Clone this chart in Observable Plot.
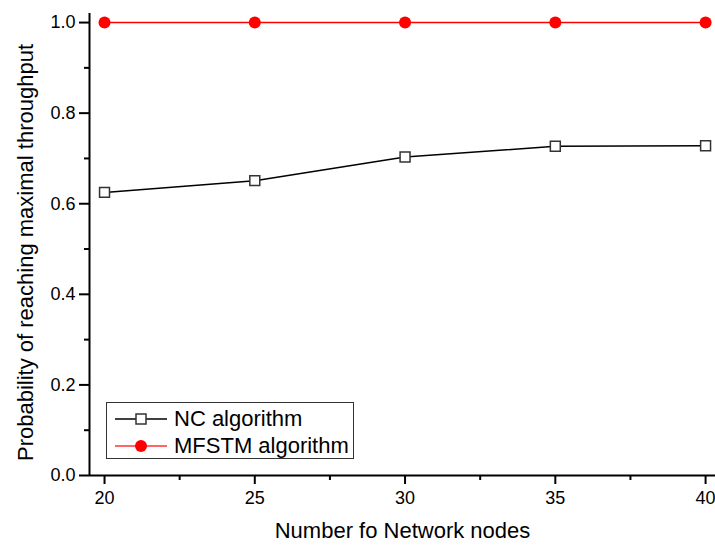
<!DOCTYPE html>
<html>
<head>
<meta charset="utf-8">
<script src="https://cdn.jsdelivr.net/npm/d3@7"></script>
<script src="https://cdn.jsdelivr.net/npm/@observablehq/plot@0.6"></script>
<style>
  body { margin: 0; background: #fff; }
  #wrap { position: relative; width: 715px; height: 545px; font-family: "Liberation Sans", Arial, sans-serif; }
  #legend { position: absolute; left: 106px; top: 402px; width: 246px; height: 55px; border: 1px solid #333; background: #fff; }
  .row { position: absolute; left: 0; height: 27px; display: flex; align-items: center; font-size: 22px; color: #000; }
  .row svg { margin-left: 8px; margin-right: 7px; }
</style>
</head>
<body>
<div id="wrap"></div>
<script>
const nodes = [20, 25, 30, 35, 40];
const ncValues = [0.625, 0.651, 0.703, 0.727, 0.728];
const mfstmValues = [1.0, 1.0, 1.0, 1.0, 1.0];
const xTicks = [20, 25, 30, 35, 40];
const xMinorTicks = [22.5, 27.5, 32.5, 37.5];
const yTicks = [0, 0.2, 0.4, 0.6, 0.8, 1.0];
const yMinorTicks = [0.1, 0.3, 0.5, 0.7, 0.9];
const xDomain = [19.5, 40.33];
const yDomain = [0, 1.02];
const seriesNames = ["NC algorithm", "MFSTM algorithm"];
const xLabel = "Number fo Network nodes";
const yLabel = "Probability of reaching maximal throughput";

const nc = nodes.map((n, i) => ({x: n, y: ncValues[i]}));
const mf = nodes.map((n, i) => ({x: n, y: mfstmValues[i]}));

const chart = Plot.plot({
  width: 715,
  height: 545,
  marginLeft: 89,
  marginRight: 0,
  marginTop: 13,
  marginBottom: 70,
  style: {fontFamily: "'Liberation Sans', Arial, sans-serif", background: "#fff", color: "#000"},
  x: {domain: xDomain},
  y: {domain: yDomain},
  marks: [
    Plot.axisY({ticks: yMinorTicks, tickSize: 5, tickFormat: () => "", strokeWidth: 2, label: null}),
    Plot.axisY({ticks: yTicks, tickSize: 10, tickPadding: 4, tickFormat: d3.format(".1f"), strokeWidth: 2, fontSize: 18,
      label: yLabel, labelAnchor: "center", labelArrow: "none", labelOffset: 72}),
    Plot.axisX({ticks: xMinorTicks, tickSize: 5, tickFormat: () => "", strokeWidth: 2, label: null}),
    Plot.axisX({ticks: xTicks, tickSize: 9, tickPadding: 7, strokeWidth: 2, fontSize: 18,
      label: xLabel, labelAnchor: "center", labelArrow: "none", labelOffset: 62}),
    Plot.ruleX([xDomain[0]], {stroke: "#000", strokeWidth: 2}),
    Plot.ruleY([yDomain[0]], {stroke: "#000", strokeWidth: 2}),
    Plot.line(nc, {x: "x", y: "y", stroke: "#000", strokeWidth: 1.5}),
    Plot.dot(nc, {x: "x", y: "y", symbol: "square", r: 5.6, fill: "#fff", stroke: "#333", strokeWidth: 1.5}),
    Plot.line(mf, {x: "x", y: "y", stroke: "#ff0000", strokeWidth: 1.5}),
    Plot.dot(mf, {x: "x", y: "y", symbol: "circle", r: 6, fill: "#ff0000", stroke: "none"})
  ]
});
chart.querySelectorAll('[aria-label="y-axis label"] text, [aria-label="x-axis label"] text').forEach(t => t.setAttribute("font-size", "22"));
chart.querySelectorAll('[aria-label="y-axis label"] text').forEach(t => t.setAttribute("dx", "-8"));
const wrap = document.getElementById("wrap");
wrap.appendChild(chart);

const legend = document.createElement("div");
legend.id = "legend";
legend.innerHTML = `
  <div class="row" style="top:2px"><svg width="52" height="14"><line x1="0" y1="7" x2="52" y2="7" stroke="#000" stroke-width="1.5"/><rect x="21" y="2" width="10" height="10" fill="#fff" stroke="#333" stroke-width="1.5"/></svg>${seriesNames[0]}</div>
  <div class="row" style="top:29px"><svg width="52" height="14"><line x1="0" y1="7" x2="52" y2="7" stroke="#ff3333" stroke-width="1.5"/><circle cx="26" cy="7" r="6" fill="#ff0000"/></svg>${seriesNames[1]}</div>`;
wrap.appendChild(legend);
</script>
</body>
</html>
